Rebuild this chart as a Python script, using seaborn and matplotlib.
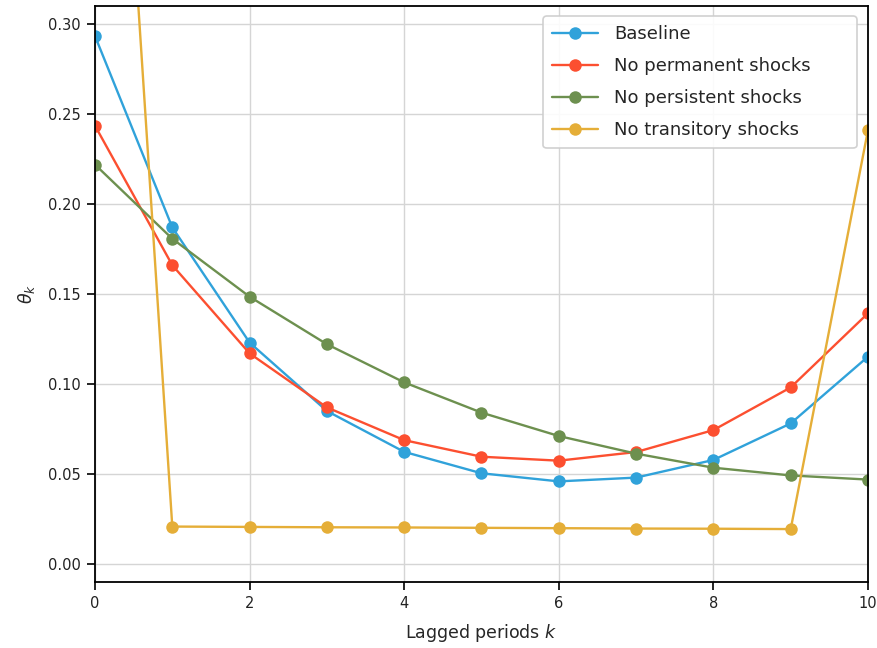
import numpy as np
import pandas as pd
import matplotlib
matplotlib.use("Agg")
import matplotlib.pyplot as plt
import seaborn as sns

lags = list(range(11))
baseline = [0.2933, 0.187, 0.123, 0.085, 0.0623, 0.0504, 0.0459, 0.0480, 0.0578, 0.0781, 0.1152]
no_permanent = [0.2435, 0.166, 0.117, 0.087, 0.0688, 0.0596, 0.0574, 0.0622, 0.0744, 0.0981, 0.1393]
no_persistent = [0.2219, 0.1807, 0.1485, 0.1221, 0.1009, 0.0841, 0.0711, 0.0613, 0.0535, 0.0492, 0.0469]
no_transitory = [0.679, 0.0208, 0.0206, 0.0204, 0.0203, 0.0201, 0.0199, 0.0197, 0.0196, 0.0194, 0.2411]

series_names = ["Baseline", "No permanent shocks", "No persistent shocks", "No transitory shocks"]
series_values = [baseline, no_permanent, no_persistent, no_transitory]
colors = ["#30a2da", "#fc4f30", "#6d904f", "#e5ae38"]

sns.set_theme(style="whitegrid")
plt.rcParams["font.family"] = ["DejaVu Sans"]
plt.rcParams["mathtext.fontset"] = "dejavusans"

rows = []
for name, vals in zip(series_names, series_values):
    for k, v in zip(lags, vals):
        rows.append({"k": k, "theta": v, "series": name})
df = pd.DataFrame(rows)

fig = plt.figure(figsize=(8.78, 6.48), dpi=100)
ax = fig.add_axes([95/878, 1-582/648, (868-95)/878, (582-6)/648])

sns.lineplot(data=df, x="k", y="theta", hue="series", hue_order=series_names,
             palette=dict(zip(series_names, colors)), marker="o", markersize=9,
             markeredgewidth=0, linewidth=1.7, ax=ax, legend=True)

ax.set_xlim(0, 10)
ax.set_ylim(-0.01, 0.31)
ax.set_xticks([0, 2, 4, 6, 8, 10])
ax.set_yticks([0.0, 0.05, 0.10, 0.15, 0.20, 0.25, 0.30])
ax.set_yticklabels(["0.00", "0.05", "0.10", "0.15", "0.20", "0.25", "0.30"])
ax.set_xlabel("Lagged periods $k$", fontsize=12.5, labelpad=8)
ax.set_ylabel(r"$\theta_k$", fontsize=12.5, labelpad=8)

ax.grid(True, color="#d5d5d5", linewidth=1.0)
for sp in ax.spines.values():
    sp.set_color("black")
    sp.set_linewidth(1.3)
ax.tick_params(axis="both", which="major", direction="out", length=6, width=1.2,
               color="black", labelsize=10.5, labelcolor="#222222", pad=4,
               bottom=True, left=True)

x0 = (543 - 95) / 773
x1 = (857 - 95) / 773
ytop = 1 - (16 - 6) / 576
ybot = 1 - (150 - 6) / 576
leg = ax.legend(loc="upper left", mode="expand", fontsize=13, frameon=True, fancybox=True,
                framealpha=0.9, edgecolor="#cccccc", borderpad=0.5, borderaxespad=0,
                handlelength=2.55, handletextpad=0.9, labelspacing=0.78,
                bbox_to_anchor=(x0, ybot, x1 - x0, ytop - ybot))
leg.get_frame().set_linewidth(1.2)
for h in leg.legend_handles:
    h.set_markersize(9)
    h.set_linewidth(1.7)

fig.savefig("out.png", dpi=100)
